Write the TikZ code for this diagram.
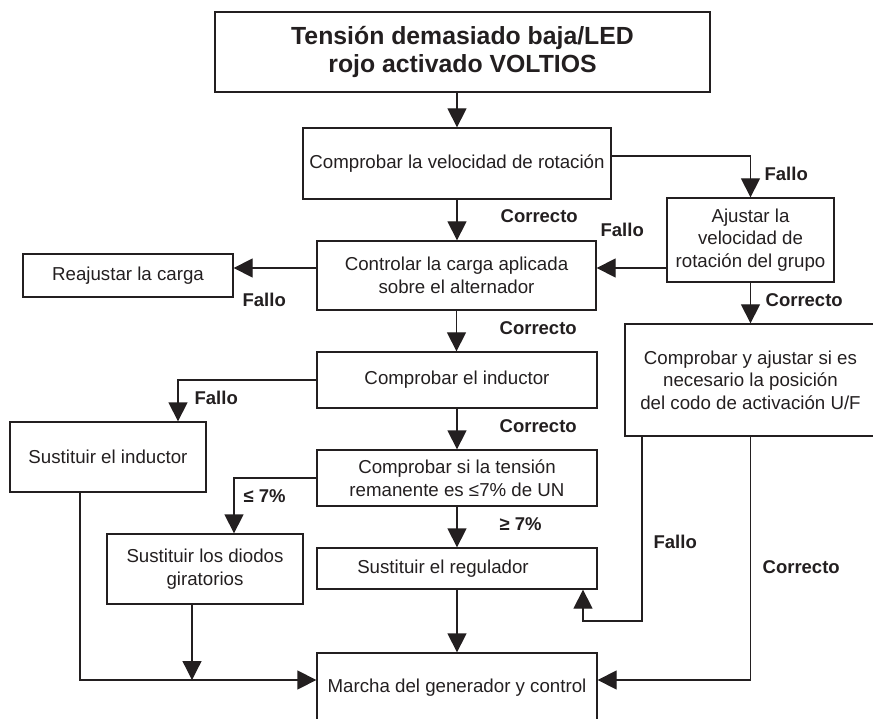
\documentclass[tikz,border=0pt]{standalone}
\usepackage{fontspec}
\setmainfont{Liberation Sans}
\usetikzlibrary{arrows.meta}
\definecolor{ink}{RGB}{35,31,32}

\begin{document}
\begin{tikzpicture}[x=1pt, y=-1pt, line width=1.3pt, color=ink,
  box/.style={draw, inner sep=0pt, align=center, font=\fontsize{18.7}{22.5}\selectfont},
  lbl/.style={anchor=west, inner sep=0pt, font=\fontsize{18.5}{22}\selectfont\bfseries},
  arr/.style={-{Triangle[width=19pt, length=19pt]}}]
% Troubleshooting flow chart, pixel grid 873 x 719 (y down)
\useasboundingbox (0,0) rectangle (873,719);

% Boxes
\node[box, line width=2pt, minimum width=495, minimum height=80,
      font=\fontsize{24.8}{28}\selectfont\bfseries] (volt) at (462.5,52)
      {Tensión demasiado baja/LED\\rojo activado VOLTIOS};
\node[box, minimum width=308, minimum height=71] (velo)     at (457,163.5) {Comprobar la velocidad de rotación};
\node[box, minimum width=167, minimum height=84] (ajustar)  at (750.5,240) {Ajustar la\\velocidad de\\rotación del grupo};
\node[box, minimum width=279, minimum height=69] (carga)    at (456.5,275.5) {Controlar la carga aplicada\\sobre el alternador};
\node[box, minimum width=210, minimum height=43] (reaj)     at (128,275.5) {Reajustar la carga};
\node[box, minimum width=251, minimum height=112] (posicion) at (750.5,380) {Comprobar y ajustar si es\\necesario la posición\\del codo de activación U/F};
\node[box, minimum width=280, minimum height=56] (inductor) at (457,380) {Comprobar el inductor};
\node[box, minimum width=196, minimum height=70] (sustind)  at (108,457) {Sustituir el inductor};
\node[box, minimum width=280, minimum height=56] (tension)  at (457,478) {Comprobar si la tensión\\remanente es ≤7\% de UN};
\node[box, minimum width=196, minimum height=70] (diodos)   at (205,569) {Sustituir los diodos\\giratorios};
\node[box, minimum width=280, minimum height=41] (regul)    at (457,568.5) {Sustituir el regulador\hspace*{28pt}};
\node[box, minimum width=280, minimum height=70] (marcha)   at (457,688) {Marcha del generador y control};

% Connectors
\draw[arr] (volt.south -| velo.north) -- (velo.north);
\draw[arr] ([yshift=7.5pt]velo.east) -| (ajustar.north);
\draw[arr] (velo.south) -- (velo.south |- carga.north);
\draw[arr] ([yshift=-28pt]ajustar.west) -- ([yshift=-28pt]ajustar.west -| carga.east);
\draw[arr] ([yshift=7.5pt]carga.west) -- ([yshift=7.5pt]carga.west -| reaj.east);
\draw[arr] (ajustar.south) -- (ajustar.south |- posicion.north);
\draw[arr] (carga.south) -- (carga.south |- inductor.north);
\draw[arr] (inductor.west) -| ([xshift=70pt]sustind.north);
\draw[arr] (inductor.south) -- (tension.north);
\draw[arr] (tension.west) -| ([xshift=29pt]diodos.north);
\draw[arr] (tension.south) -- (regul.north);
\draw[arr] (regul.south) -- (marcha.north);
% return paths from the U/F check
\coordinate (ret) at (583,621);
\draw[arr] ([xshift=-108.5pt]posicion.south) |- (ret) -- (ret |- regul.south);
\draw[arr] (posicion.south) |- ([yshift=8pt]marcha.east);
% left side into the final box
\coordinate (joint) at ([yshift=8pt]marcha.west);
\draw[arr] ([xshift=-28pt]sustind.south) |- (joint);
\draw[arr] ([xshift=-13pt]diodos.south) -- ([xshift=-13pt]diodos.south |- joint);

% Labels
\node[lbl] (l1)  at (764,174) {Fallo};
\node[lbl] (l2)  at (500,216) {Correcto};
\node[lbl] (l3)  at (600,230) {Fallo};
\node[lbl] (l4)  at (242,300) {Fallo};
\node[lbl] (l5)  at (765,300) {Correcto};
\node[lbl] (l6)  at (499,328) {Correcto};
\node[lbl] (l7)  at (194,398) {Fallo};
\node[lbl] (l8)  at (499,426) {Correcto};
\node[lbl] (l9)  at (243,496) {≤ 7\%};
\node[lbl] (l10) at (499,524) {≥ 7\%};
\node[lbl] (l11) at (653,542) {Fallo};
\node[lbl] (l12) at (762,567) {Correcto};
\end{tikzpicture}
\end{document}
